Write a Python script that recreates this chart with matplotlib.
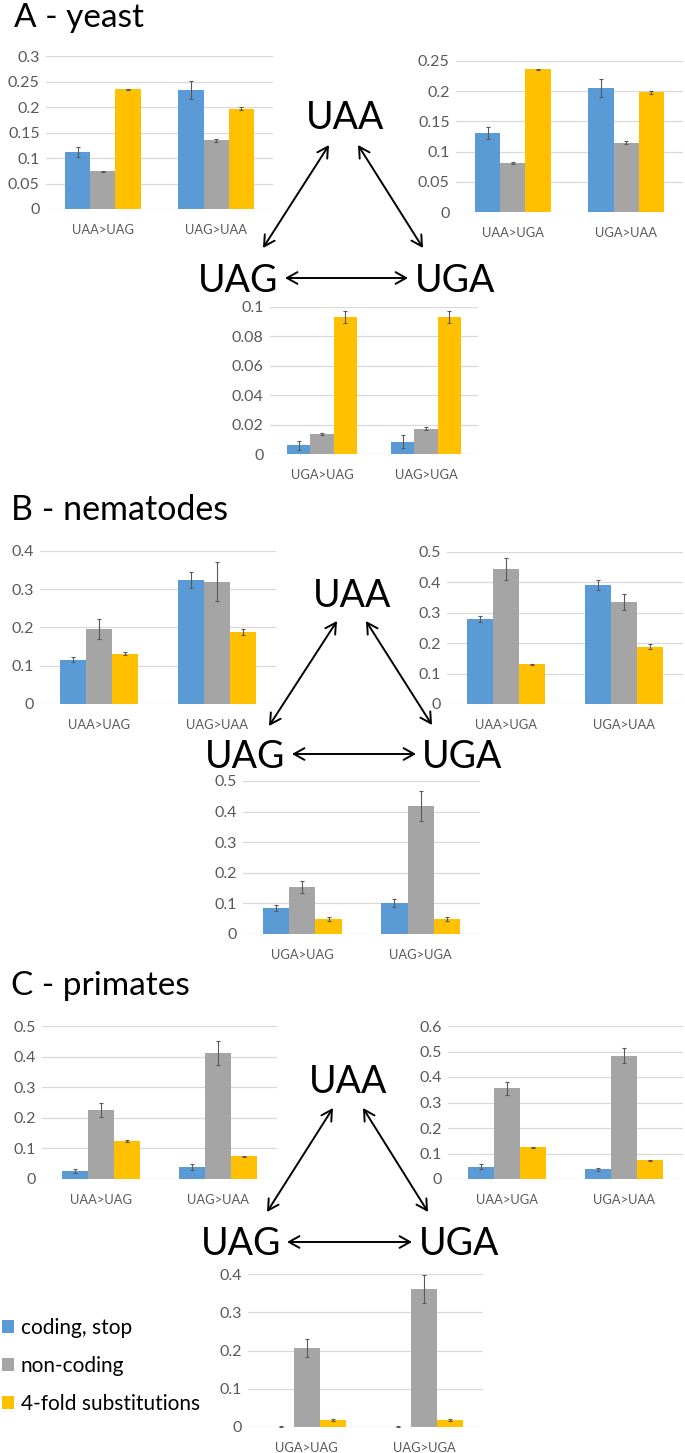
import numpy as np
import matplotlib
matplotlib.use("Agg")
import matplotlib.pyplot as plt
from matplotlib.ticker import FuncFormatter

plt.rcParams['font.family'] = ['Lato', 'DejaVu Sans']

W, H = 685, 1453

# colours of the three series
c_coding = "#5B9BD5"
c_noncoding = "#A5A5A5"
c_fourfold = "#FFC000"
series_labels = ["coding, stop", "non-coding", "4-fold substitutions"]

# ---- A - yeast
yeast_left_cats = ["UAA>UAG", "UAG>UAA"]
yeast_left_coding = [0.112, 0.233]
yeast_left_coding_err = [0.010, 0.018]
yeast_left_noncoding = [0.074, 0.135]
yeast_left_noncoding_err = [0.001, 0.003]
yeast_left_fourfold = [0.235, 0.197]
yeast_left_fourfold_err = [0.001, 0.003]

yeast_right_cats = ["UAA>UGA", "UGA>UAA"]
yeast_right_coding = [0.131, 0.205]
yeast_right_coding_err = [0.010, 0.015]
yeast_right_noncoding = [0.081, 0.115]
yeast_right_noncoding_err = [0.001, 0.002]
yeast_right_fourfold = [0.236, 0.198]
yeast_right_fourfold_err = [0.001, 0.003]

yeast_bottom_cats = ["UGA>UAG", "UAG>UGA"]
yeast_bottom_coding = [0.0059, 0.0084]
yeast_bottom_coding_err = [0.003, 0.0043]
yeast_bottom_noncoding = [0.0136, 0.0172]
yeast_bottom_noncoding_err = [0.0005, 0.001]
yeast_bottom_fourfold = [0.0934, 0.0934]
yeast_bottom_fourfold_err = [0.004, 0.004]

# ---- B - nematodes
nema_left_cats = ["UAA>UAG", "UAG>UAA"]
nema_left_coding = [0.116, 0.324]
nema_left_coding_err = [0.007, 0.020]
nema_left_noncoding = [0.196, 0.320]
nema_left_noncoding_err = [0.027, 0.051]
nema_left_fourfold = [0.132, 0.188]
nema_left_fourfold_err = [0.003, 0.008]

nema_right_cats = ["UAA>UGA", "UGA>UAA"]
nema_right_coding = [0.280, 0.391]
nema_right_coding_err = [0.009, 0.016]
nema_right_noncoding = [0.444, 0.335]
nema_right_noncoding_err = [0.036, 0.027]
nema_right_fourfold = [0.131, 0.188]
nema_right_fourfold_err = [0.002, 0.008]

nema_bottom_cats = ["UGA>UAG", "UAG>UGA"]
nema_bottom_coding = [0.085, 0.102]
nema_bottom_coding_err = [0.010, 0.013]
nema_bottom_noncoding = [0.153, 0.418]
nema_bottom_noncoding_err = [0.019, 0.050]
nema_bottom_fourfold = [0.050, 0.050]
nema_bottom_fourfold_err = [0.006, 0.006]

# ---- C - primates
prim_left_cats = ["UAA>UAG", "UAG>UAA"]
prim_left_coding = [0.027, 0.040]
prim_left_coding_err = [0.007, 0.010]
prim_left_noncoding = [0.224, 0.412]
prim_left_noncoding_err = [0.023, 0.039]
prim_left_fourfold = [0.124, 0.074]
prim_left_fourfold_err = [0.002, 0.002]

prim_right_cats = ["UAA>UGA", "UGA>UAA"]
prim_right_coding = [0.048, 0.038]
prim_right_coding_err = [0.010, 0.006]
prim_right_noncoding = [0.355, 0.484]
prim_right_noncoding_err = [0.025, 0.030]
prim_right_fourfold = [0.124, 0.074]
prim_right_fourfold_err = [0.002, 0.002]

prim_bottom_cats = ["UGA>UAG", "UAG>UGA"]
prim_bottom_coding = [0.001, 0.001]
prim_bottom_coding_err = [0.0005, 0.0005]
prim_bottom_noncoding = [0.206, 0.360]
prim_bottom_noncoding_err = [0.024, 0.037]
prim_bottom_fourfold = [0.018, 0.018]
prim_bottom_fourfold_err = [0.002, 0.002]

fig = plt.figure(figsize=(W / 100, H / 100), dpi=100)


def fx(x):
    return x / W


def fy(y):
    return 1 - y / H


def bar_chart(x0, x1, ytop, ybot, cats, series, ymax, step):
    ax = fig.add_axes([fx(x0), fy(ybot), (x1 - x0) / W, (ybot - ytop) / H])
    x = np.arange(len(cats))
    w = 2 / 9
    cols = [c_coding, c_noncoding, c_fourfold]
    for i, (vals, errs) in enumerate(series):
        ax.bar(x + (i - 1) * w, vals, w, yerr=errs, color=cols[i], linewidth=0,
               label=series_labels[i], zorder=2,
               error_kw=dict(ecolor="#595959", elinewidth=0.8, capsize=1.5, capthick=0.8))
    ax.set_xlim(-0.5, len(cats) - 0.5)
    ax.set_ylim(0, ymax)
    ax.set_yticks(np.arange(0, ymax + step / 2, step))
    ax.yaxis.set_major_formatter(FuncFormatter(lambda v, p: f"{round(v, 4):g}"))
    ax.set_xticks(x)
    ax.set_xticklabels(cats)
    ax.yaxis.grid(True, color="#D9D9D9", lw=0.9, zorder=0)
    ax.set_axisbelow(True)
    for s in ax.spines.values():
        s.set_visible(False)
    ax.tick_params(axis="y", length=0, labelsize=11.5, colors="#595959", pad=4.5)
    ax.tick_params(axis="x", length=0, labelsize=9.3, colors="#595959", pad=11)
    ax.patch.set_alpha(0)
    return ax


def triangle(uaa, uag, uga, a_left, a_right, a_horiz):
    for txt, (x, y) in zip(["UAA", "UAG", "UGA"], [uaa, uag, uga]):
        fig.text(fx(x), fy(y), txt, fontsize=27, ha="center", va="baseline")
    for (xa, ya, xb, yb) in [a_left, a_right, a_horiz]:
        fig.patches.append(matplotlib.patches.FancyArrowPatch(
            (fx(xa), fy(ya)), (fx(xb), fy(yb)), transform=fig.transFigure,
            arrowstyle="<->,head_length=0.75,head_width=0.42", mutation_scale=10,
            lw=1.4, color="black", shrinkA=0, shrinkB=0))


# A - yeast
fig.text(fx(14), fy(27), "A - yeast", fontsize=24, va="baseline")
bar_chart(46, 273, 56, 209, yeast_left_cats,
          [(yeast_left_coding, yeast_left_coding_err),
           (yeast_left_noncoding, yeast_left_noncoding_err),
           (yeast_left_fourfold, yeast_left_fourfold_err)], 0.3, 0.05)
bar_chart(456, 683, 61, 212, yeast_right_cats,
          [(yeast_right_coding, yeast_right_coding_err),
           (yeast_right_noncoding, yeast_right_noncoding_err),
           (yeast_right_fourfold, yeast_right_fourfold_err)], 0.25, 0.05)
bar_chart(270, 478, 307, 454, yeast_bottom_cats,
          [(yeast_bottom_coding, yeast_bottom_coding_err),
           (yeast_bottom_noncoding, yeast_bottom_noncoding_err),
           (yeast_bottom_fourfold, yeast_bottom_fourfold_err)], 0.1, 0.02)
triangle((345, 129), (238, 292), (455, 292),
         (329, 145, 263, 248), (358, 145, 423, 248), (285, 278, 408, 278))

# B - nematodes
fig.text(fx(11), fy(520), "B - nematodes", fontsize=24.5, va="baseline")
bar_chart(40, 276, 551, 704, nema_left_cats,
          [(nema_left_coding, nema_left_coding_err),
           (nema_left_noncoding, nema_left_noncoding_err),
           (nema_left_fourfold, nema_left_fourfold_err)], 0.4, 0.1)
bar_chart(447, 683, 552, 704, nema_right_cats,
          [(nema_right_coding, nema_right_coding_err),
           (nema_right_noncoding, nema_right_noncoding_err),
           (nema_right_fourfold, nema_right_fourfold_err)], 0.5, 0.1)
bar_chart(243, 480, 781, 934, nema_bottom_cats,
          [(nema_bottom_coding, nema_bottom_coding_err),
           (nema_bottom_noncoding, nema_bottom_noncoding_err),
           (nema_bottom_fourfold, nema_bottom_fourfold_err)], 0.5, 0.1)
triangle((352, 607), (245, 768), (462, 768),
         (337, 621, 269, 726), (366, 621, 432, 725), (292, 754, 416, 754))

# C - primates
fig.text(fx(11), fy(995), "C - primates", fontsize=24, va="baseline")
bar_chart(42, 277, 1026, 1179, prim_left_cats,
          [(prim_left_coding, prim_left_coding_err),
           (prim_left_noncoding, prim_left_noncoding_err),
           (prim_left_fourfold, prim_left_fourfold_err)], 0.5, 0.1)
bar_chart(448, 683, 1026, 1179, prim_right_cats,
          [(prim_right_coding, prim_right_coding_err),
           (prim_right_noncoding, prim_right_noncoding_err),
           (prim_right_fourfold, prim_right_fourfold_err)], 0.6, 0.1)
axc = bar_chart(248, 483, 1274, 1427, prim_bottom_cats,
                [(prim_bottom_coding, prim_bottom_coding_err),
                 (prim_bottom_noncoding, prim_bottom_noncoding_err),
                 (prim_bottom_fourfold, prim_bottom_fourfold_err)], 0.4, 0.1)
triangle((348, 1093), (241, 1255), (459, 1255),
         (333, 1108, 267, 1212), (363, 1108, 428, 1212), (287, 1242, 412, 1242))

handles, labels = axc.get_legend_handles_labels()
fig.legend(handles, labels, loc="upper left", bbox_to_anchor=(fx(2), fy(1318)),
           frameon=False, fontsize=15, handlelength=0.58, handleheight=0.58,
           handletextpad=0.32, labelspacing=0.86, borderaxespad=0, borderpad=0)

fig.savefig("out.png", dpi=100)
